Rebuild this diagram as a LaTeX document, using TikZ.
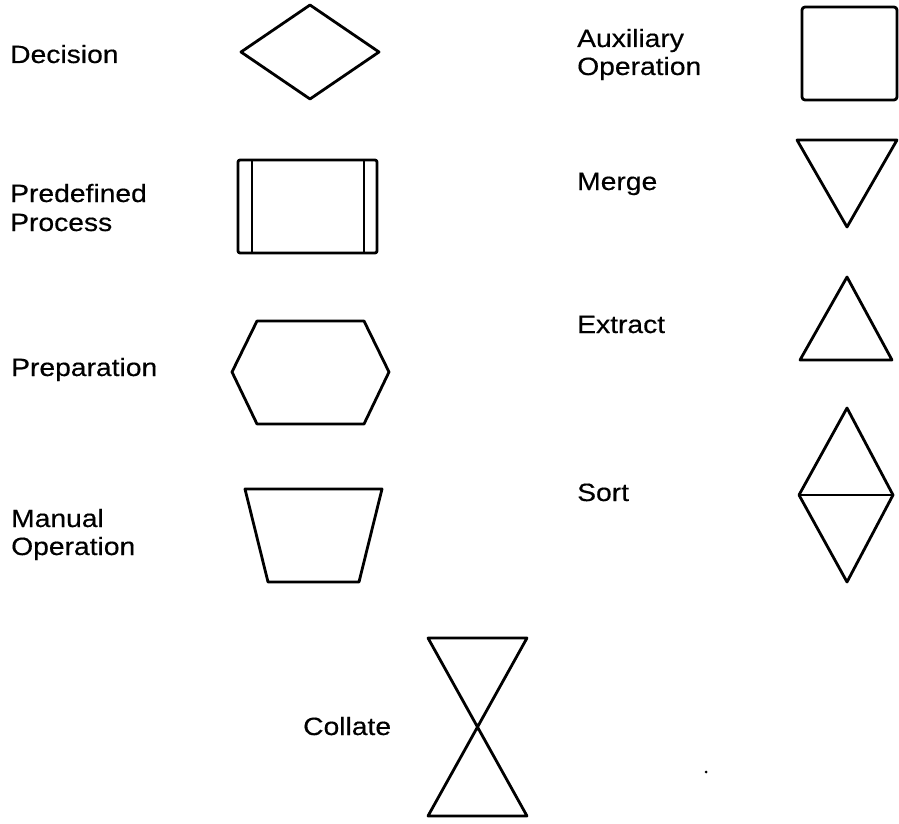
\documentclass[tikz,border=0pt]{standalone}
\usepackage{fontspec}
\setmainfont{Liberation Sans}[FakeStretch=1.13,FakeBold=0.4]
\begin{document}
\begin{tikzpicture}[x=1pt,y=-1pt,
  outl/.style={draw=black,line width=2.8pt,line join=round},
  lbl/.style={anchor=base west,inner sep=0pt,font=\fontsize{25}{29}\selectfont}]
\useasboundingbox (0,0) rectangle (899,824);
% left column labels
\node[lbl] (decision) at (10,63) {Decision};
\node[lbl] (predef1) at (10,202) {Predefined};
\node[lbl] (predef2) at (10,231) {Process};
\node[lbl] (prep) at (11,376) {Preparation};
\node[lbl] (manual1) at (11,527) {Manual};
\node[lbl] (manual2) at (11,555) {Operation};
\node[lbl] (collate) at (303,735) {Collate};
% right column labels
\node[lbl] (aux1) at (577,47) {Auxiliary};
\node[lbl] (aux2) at (577,75) {Operation};
\node[lbl] (merge) at (577,190) {Merge};
\node[lbl] (extract) at (577,333) {Extract};
\node[lbl] (sort) at (577,501) {Sort};
% shapes
\draw[outl] (241,52)--(310,5)--(379,52)--(310,99)--cycle;
\draw[outl,rounded corners=2pt] (238,160) rectangle (377,253);
\draw[outl] (252,160)--(252,253) (364,160)--(364,253);
\draw[outl] (232,372)--(257,321)--(364,321)--(389,372)--(364,424)--(257,424)--cycle;
\draw[outl] (245,489)--(382,489)--(359,582)--(268,582)--cycle;
\draw[outl] (428,638)--(527,638)--(428,816)--(527,816)--cycle;
\draw[outl,rounded corners=3pt] (802,7) rectangle (897,100);
\draw[outl] (797,140)--(897,140)--(847,227)--cycle;
\draw[outl] (847,277)--(892,360)--(800,360)--cycle;
\draw[outl] (847,408)--(893,495)--(847,582)--(799,495)--cycle;
\draw[outl] (799,495)--(893,495);
\fill (706,772) circle (1.5pt);
\end{tikzpicture}
\end{document}
